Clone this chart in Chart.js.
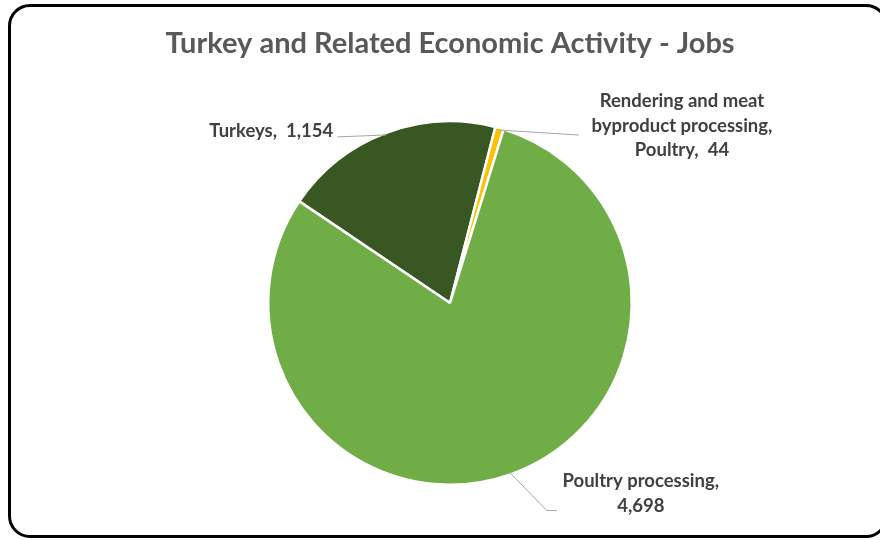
<!DOCTYPE html>
<html>
<head>
<meta charset="utf-8">
<script src="https://cdn.jsdelivr.net/npm/chart.js@4"></script>
<style>
  html, body { margin: 0; padding: 0; background: #fff; overflow: hidden; }
  #wrap { position: relative; width: 880px; height: 540px; overflow: hidden; }
  #frame {
    position: absolute; left: 8px; top: 4px; width: 880px; height: 534px;
    border: 3px solid #000; border-radius: 22px; box-sizing: border-box;
  }
  canvas { position: absolute; left: 0; top: 0; }
</style>
</head>
<body>
<div id="wrap">
  <div id="frame"></div>
  <canvas id="pieChart" width="880" height="540"></canvas>
</div>
<script>
const categories = [['Turkeys'], ['Rendering and meat', 'byproduct processing,', 'Poultry'], ['Poultry processing']];
const jobs = [1154, 44, 4698];
const sliceColors = ['#385723', '#FFC000', '#70AD47'];

// where each data label sits, relative to the point where its leader touches the slice
const labelLayout = [
    { leader: [[-49, 2]], x: -53, y: -4, align: 'right', valueOwnLine: false },
    { leader: [[80, 5]], x: 183, y: -29, align: 'center', valueOwnLine: false },
    { leader: [[37, 38], [47, 38]], x: 131, y: 9, align: 'center', valueOwnLine: true },
];

const leaderLabels = {
    id: 'leaderLabels',
    afterDatasetsDraw(chart) {
        const ctx = chart.ctx;
        const arcs = chart.getDatasetMeta(0).data;
        ctx.save();
        arcs.forEach((arc, i) => {
            const { x, y, startAngle, endAngle, outerRadius } = arc.getProps(['x', 'y', 'startAngle', 'endAngle', 'outerRadius'], true);
            const mid = (startAngle + endAngle) / 2;
            const ax = x + Math.cos(mid) * (outerRadius - 2);
            const ay = y + Math.sin(mid) * (outerRadius - 2);
            const lay = labelLayout[i];

            ctx.strokeStyle = '#a6a6a6';
            ctx.lineWidth = 1;
            ctx.beginPath();
            ctx.moveTo(ax, ay);
            lay.leader.forEach(p => ctx.lineTo(ax + p[0], ay + p[1]));
            ctx.stroke();

            const lines = categories[i].slice();
            const value = jobs[i].toLocaleString('en-US');
            if (lay.valueOwnLine) {
                lines[lines.length - 1] += ',';
                lines.push(value);
            } else {
                lines[lines.length - 1] += ',  ' + value;
            }
            ctx.fillStyle = '#404040';
            ctx.font = 'bold 18.5px Lato, "Open Sans", sans-serif';
            ctx.textAlign = lay.align;
            ctx.textBaseline = 'middle';
            lines.forEach((t, k) => ctx.fillText(t, ax + lay.x, ay + lay.y + k * 24.5));
        });
        ctx.restore();
    }
};

new Chart(document.getElementById('pieChart').getContext('2d'), {
    type: 'pie',
    data: {
        labels: categories,
        datasets: [{
            data: jobs,
            backgroundColor: sliceColors,
            borderColor: '#ffffff',
            borderWidth: 2.5,
        }],
    },
    options: {
        responsive: false,
        animation: false,
        rotation: -56,
        layout: { padding: { left: 20, right: 0, top: 0, bottom: 54 } },
        plugins: {
            legend: { display: false },
            tooltip: { enabled: false },
            title: {
                display: true,
                text: 'Turkey and Related Economic Activity - Jobs',
                color: '#595959',
                font: { family: 'Lato, "Open Sans", sans-serif', size: 29, weight: 'bold', lineHeight: 1 },
                padding: { top: 29, bottom: 62 },
            },
        },
    },
    plugins: [leaderLabels],
});
</script>
</body>
</html>
